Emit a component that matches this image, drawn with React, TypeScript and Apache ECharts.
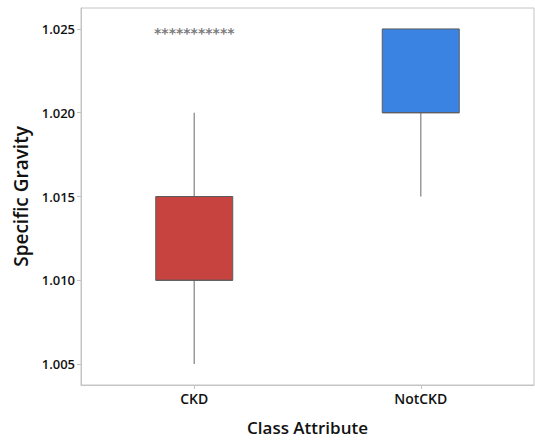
import React, { useEffect, useRef } from "react";
import * as echarts from "echarts";

const categories = ["CKD", "NotCKD"];
const whiskerLow = [1.005, 1.015];
const q1 = [1.01, 1.02];
const median = [1.01, 1.02];
const q3 = [1.015, 1.025];
const whiskerHigh = [1.02, 1.025];
const outlierValues = [1.025, null];
const outlierCounts = [11, 0];
const boxColors = ["#C7433F", "#3A83E2"];
const yTicks = [1.005, 1.01, 1.015, 1.02, 1.025];

export default function App() {
  const ref = useRef<HTMLDivElement>(null);
  useEffect(() => {
    if (!ref.current) return;
    const chart = echarts.init(ref.current, null, { renderer: "svg" });
    const boxData = categories.map((c, i) => [i, whiskerLow[i], q1[i], median[i], q3[i], whiskerHigh[i]]);
    const outData = categories
      .map((c, i) => (outlierValues[i] == null ? null : { value: [i, outlierValues[i]], count: outlierCounts[i] }))
      .filter((d) => d !== null);
    const font = "'Open Sans', 'Noto Sans', sans-serif";
    chart.setOption({
      animation: false,
      backgroundColor: "#ffffff",
      grid: { left: 81, right: 1, top: 8, bottom: 60, show: true, borderColor: "#c4c4c4", borderWidth: 1 },
      xAxis: {
        type: "category",
        data: categories,
        axisLine: { show: true, lineStyle: { color: "#c4c4c4" } },
        axisTick: { show: true, alignWithLabel: true, length: 4, lineStyle: { color: "#c4c4c4" } },
        axisLabel: { fontFamily: font, fontSize: 14, color: "#111111", margin: 6, fontWeight: 600 },
        name: "Class Attribute",
        nameLocation: "middle",
        nameGap: 34,
        nameTextStyle: { fontFamily: font, fontSize: 17, color: "#111111", fontWeight: 600 },
        splitLine: { show: false },
      },
      yAxis: {
        type: "value",
        min: 1.00375,
        max: 1.02625,
        axisLine: { show: true, lineStyle: { color: "#c4c4c4" } },
        axisTick: { show: true, length: 4, customValues: yTicks, lineStyle: { color: "#c4c4c4" } },
        axisLabel: {
          customValues: yTicks,
          fontFamily: font,
          fontSize: 13,
          color: "#111111",
          margin: 6,
          fontWeight: 600,
          formatter: (v: number) => v.toFixed(3),
        },
        splitLine: { show: false },
        name: "Specific Gravity",
        nameLocation: "middle",
        nameGap: 46,
        nameTextStyle: { fontFamily: font, fontSize: 19, color: "#111111", fontWeight: 600 },
      },
      series: [
        {
          type: "custom",
          data: boxData,
          encode: { x: 0, y: [1, 2, 3, 4, 5] },
          renderItem: (params: any, api: any) => {
            const idx = api.value(0);
            const bw = api.size([1, 0])[0] * 0.34;
            const pLo = api.coord([idx, api.value(1)]);
            const pQ1 = api.coord([idx, api.value(2)]);
            const pMed = api.coord([idx, api.value(3)]);
            const pQ3 = api.coord([idx, api.value(4)]);
            const pHi = api.coord([idx, api.value(5)]);
            const x = pQ1[0];
            const wStyle = { stroke: "#9a9a9a", lineWidth: 1.5 };
            return {
              type: "group",
              children: [
                { type: "line", shape: { x1: x, y1: pQ1[1], x2: x, y2: pLo[1] }, style: wStyle },
                { type: "line", shape: { x1: x, y1: pQ3[1], x2: x, y2: pHi[1] }, style: wStyle },
                {
                  type: "rect",
                  shape: { x: x - bw / 2, y: pQ3[1], width: bw, height: pQ1[1] - pQ3[1] },
                  style: { fill: boxColors[idx], stroke: "#5c5c5c", lineWidth: 1 },
                },
                {
                  type: "line",
                  shape: { x1: x - bw / 2, y1: pMed[1], x2: x + bw / 2, y2: pMed[1] },
                  style: { stroke: "#5c5c5c", lineWidth: 1 },
                },
              ],
            };
          },
          z: 2,
        },
        {
          type: "scatter",
          data: outData,
          symbolSize: 0,
          label: {
            show: true,
            position: "inside",
            offset: [0, 4],
            formatter: (p: any) => "*".repeat(p.data.count),
            fontFamily: "'DejaVu Sans', sans-serif",
            fontSize: 14,
            fontWeight: "bold",
            color: "#595959",
          },
          z: 3,
        },
      ],
    });
    return () => chart.dispose();
  }, []);
  return <div ref={ref} style={{ position: "fixed", left: 0, top: 0, width: 535, height: 445 }} />;
}
